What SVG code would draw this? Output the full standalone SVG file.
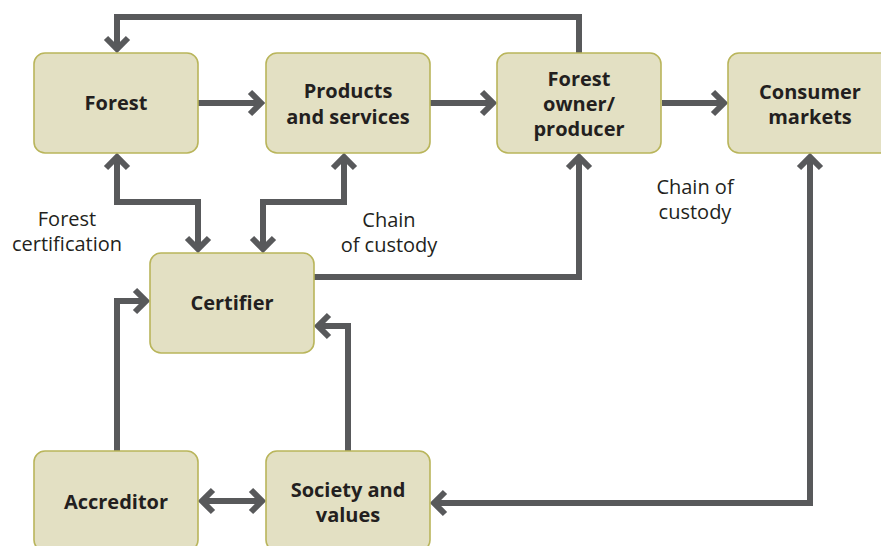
<svg xmlns="http://www.w3.org/2000/svg" width="881" height="546" viewBox="0 0 881 546">
  <style>
    .box rect { fill: #e3e0c3; stroke: #b9b55b; stroke-width: 1.6; }
    .box text { font-family: "Open Sans", "Liberation Sans", sans-serif; font-weight: bold; font-size: 20px; fill: #231f20; text-anchor: middle; }
    .label { font-family: "Open Sans", "Liberation Sans", sans-serif; font-size: 20px; fill: #231f20; text-anchor: middle; }
    .conn path { fill: none; stroke: #58595b; stroke-width: 6; stroke-linejoin: miter; }
  </style>
  <defs>
    <marker id="chev" markerUnits="userSpaceOnUse" viewBox="-16 -16 24 32" refX="0" refY="0" markerWidth="24" markerHeight="32" orient="auto-start-reverse">
      <path d="M-11,-11 L0,0 L-11,11" fill="none" stroke="#58595b" stroke-width="6" stroke-linejoin="miter"/>
    </marker>
  </defs>

  <rect width="881" height="546" fill="#ffffff"/>

  <!-- connectors -->
  <g id="connectors" class="conn">
    <path d="M579,53 V17 H117 V49" marker-end="url(#chev)"/>
    <path d="M198,103 H261" marker-end="url(#chev)"/>
    <path d="M430,103 H493" marker-end="url(#chev)"/>
    <path d="M662,103 H724" marker-end="url(#chev)"/>
    <path d="M117,157 V202 H198 V249" marker-start="url(#chev)" marker-end="url(#chev)"/>
    <path d="M344,157 V202 H263 V249" marker-start="url(#chev)" marker-end="url(#chev)"/>
    <path d="M314,277 H579 V157" marker-end="url(#chev)"/>
    <path d="M810,157 V503 H434" marker-start="url(#chev)" marker-end="url(#chev)"/>
    <path d="M117,451 V301 H146" marker-end="url(#chev)"/>
    <path d="M348,451 V326 H318" marker-end="url(#chev)"/>
    <path d="M202,501 H262" marker-start="url(#chev)" marker-end="url(#chev)"/>
  </g>

  <!-- nodes -->
  <g id="forest" class="box">
    <rect x="34" y="53" width="164" height="100" rx="11"/>
    <text x="116" y="110">Forest</text>
  </g>
  <g id="products" class="box">
    <rect x="266" y="53" width="164" height="100" rx="11"/>
    <text x="348" y="98">Products</text>
    <text x="348" y="124">and services</text>
  </g>
  <g id="owner" class="box">
    <rect x="497" y="53" width="164" height="100" rx="11"/>
    <text x="579" y="86">Forest</text>
    <text x="579" y="111">owner/</text>
    <text x="579" y="136">producer</text>
  </g>
  <g id="consumer" class="box">
    <rect x="728" y="53" width="164" height="100" rx="11"/>
    <text x="810" y="99">Consumer</text>
    <text x="810" y="124">markets</text>
  </g>
  <g id="certifier" class="box">
    <rect x="150" y="253" width="164" height="100" rx="11"/>
    <text x="232" y="310">Certifier</text>
  </g>
  <g id="accreditor" class="box">
    <rect x="34" y="451" width="164" height="100" rx="11"/>
    <text x="116" y="509">Accreditor</text>
  </g>
  <g id="society" class="box">
    <rect x="266" y="451" width="164" height="100" rx="11"/>
    <text x="348" y="497">Society and</text>
    <text x="348" y="522">values</text>
  </g>

  <!-- labels -->
  <g id="labels">
    <text class="label" x="67" y="226">Forest</text>
    <text class="label" x="67" y="251">certification</text>
    <text class="label" x="389" y="227">Chain</text>
    <text class="label" x="389" y="252">of custody</text>
    <text class="label" x="695" y="194">Chain of</text>
    <text class="label" x="695" y="219">custody</text>
  </g>
</svg>
